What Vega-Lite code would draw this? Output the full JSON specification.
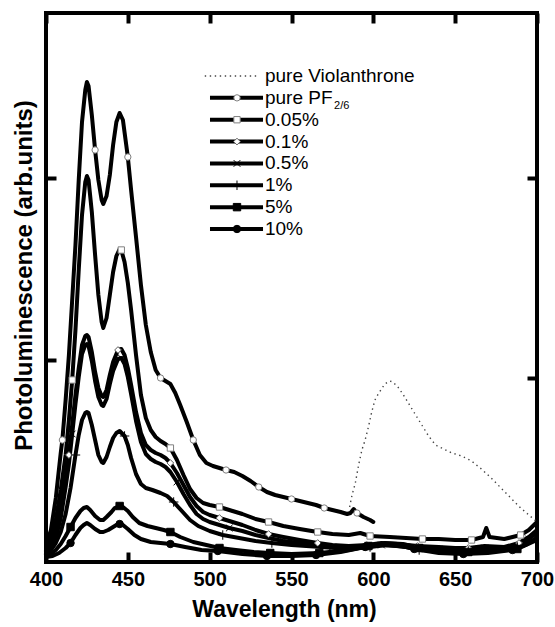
{
  "$schema": "https://vega.github.io/schema/vega-lite/v6.json",
  "width": 491,
  "height": 549,
  "autosize": {"type": "none"},
  "padding": {"left": 46, "top": 13, "right": 18, "bottom": 65},
  "background": "white",
  "config": {
    "view": {"stroke": "black", "strokeWidth": 4},
    "axis": {
      "domain": false, "grid": false, "tickColor": "black", "tickWidth": 4, "tickSize": -10,
      "labelFont": "Liberation Sans", "labelFontWeight": "bold", "labelFontSize": 20, "labelColor": "black",
      "titleFont": "Liberation Sans", "titleFontWeight": "bold", "titleFontSize": 23, "titleColor": "black",
      "minExtent": 0
    }
  },
  "datasets": {
    "spectra": [
      {"series":"pure Violanthrone","nm":585.5,"pl":55},{"series":"pure Violanthrone","nm":587,"pl":67},{"series":"pure Violanthrone","nm":589,"pl":79},{"series":"pure Violanthrone","nm":591,"pl":97},{"series":"pure Violanthrone","nm":593,"pl":112},{"series":"pure Violanthrone","nm":595,"pl":122},{"series":"pure Violanthrone","nm":597,"pl":135},{"series":"pure Violanthrone","nm":599,"pl":150},{"series":"pure Violanthrone","nm":601,"pl":162},{"series":"pure Violanthrone","nm":603,"pl":168},{"series":"pure Violanthrone","nm":605,"pl":173},{"series":"pure Violanthrone","nm":607,"pl":178},{"series":"pure Violanthrone","nm":610,"pl":181},{"series":"pure Violanthrone","nm":612,"pl":180},{"series":"pure Violanthrone","nm":615,"pl":175},{"series":"pure Violanthrone","nm":618,"pl":168},{"series":"pure Violanthrone","nm":621,"pl":160},{"series":"pure Violanthrone","nm":624,"pl":152},{"series":"pure Violanthrone","nm":627,"pl":144},{"series":"pure Violanthrone","nm":630,"pl":136},{"series":"pure Violanthrone","nm":633,"pl":128},{"series":"pure Violanthrone","nm":636,"pl":121},{"series":"pure Violanthrone","nm":639,"pl":116},{"series":"pure Violanthrone","nm":643,"pl":113},{"series":"pure Violanthrone","nm":648,"pl":109},{"series":"pure Violanthrone","nm":654,"pl":106},{"series":"pure Violanthrone","nm":660,"pl":101},{"series":"pure Violanthrone","nm":666,"pl":93},{"series":"pure Violanthrone","nm":672,"pl":84},{"series":"pure Violanthrone","nm":678,"pl":74},{"series":"pure Violanthrone","nm":684,"pl":64},{"series":"pure Violanthrone","nm":690,"pl":54},{"series":"pure Violanthrone","nm":695,"pl":47},{"series":"pure Violanthrone","nm":700,"pl":40},

      {"series":"pure PF2/6","nm":400,"pl":17},{"series":"pure PF2/6","nm":403,"pl":32},{"series":"pure PF2/6","nm":406,"pl":64},{"series":"pure PF2/6","nm":409,"pl":109},{"series":"pure PF2/6","nm":410,"pl":122},{"series":"pure PF2/6","nm":412,"pl":162},{"series":"pure PF2/6","nm":414,"pl":207},{"series":"pure PF2/6","nm":416,"pl":262},{"series":"pure PF2/6","nm":418,"pl":317},{"series":"pure PF2/6","nm":420,"pl":382},{"series":"pure PF2/6","nm":422,"pl":440},{"series":"pure PF2/6","nm":424,"pl":472},{"series":"pure PF2/6","nm":425,"pl":480},{"series":"pure PF2/6","nm":426,"pl":476},{"series":"pure PF2/6","nm":428,"pl":447},{"series":"pure PF2/6","nm":430,"pl":412},{"series":"pure PF2/6","nm":432,"pl":382},{"series":"pure PF2/6","nm":434,"pl":362},{"series":"pure PF2/6","nm":435,"pl":358},{"series":"pure PF2/6","nm":437,"pl":366},{"series":"pure PF2/6","nm":439,"pl":387},{"series":"pure PF2/6","nm":441,"pl":417},{"series":"pure PF2/6","nm":443,"pl":440},{"series":"pure PF2/6","nm":445,"pl":449},{"series":"pure PF2/6","nm":447,"pl":442},{"series":"pure PF2/6","nm":450,"pl":405},{"series":"pure PF2/6","nm":452,"pl":372},{"series":"pure PF2/6","nm":455,"pl":325},{"series":"pure PF2/6","nm":458,"pl":277},{"series":"pure PF2/6","nm":461,"pl":237},{"series":"pure PF2/6","nm":464,"pl":210},{"series":"pure PF2/6","nm":467,"pl":192},{"series":"pure PF2/6","nm":470,"pl":184},{"series":"pure PF2/6","nm":473,"pl":181},{"series":"pure PF2/6","nm":476,"pl":178},{"series":"pure PF2/6","nm":479,"pl":169},{"series":"pure PF2/6","nm":482,"pl":157},{"series":"pure PF2/6","nm":486,"pl":140},{"series":"pure PF2/6","nm":490,"pl":122},{"series":"pure PF2/6","nm":494,"pl":107},{"series":"pure PF2/6","nm":498,"pl":99},{"series":"pure PF2/6","nm":502,"pl":96},{"series":"pure PF2/6","nm":506,"pl":94},{"series":"pure PF2/6","nm":510,"pl":92},{"series":"pure PF2/6","nm":515,"pl":90},{"series":"pure PF2/6","nm":520,"pl":86},{"series":"pure PF2/6","nm":525,"pl":81},{"series":"pure PF2/6","nm":530,"pl":75},{"series":"pure PF2/6","nm":535,"pl":70},{"series":"pure PF2/6","nm":540,"pl":67},{"series":"pure PF2/6","nm":545,"pl":65},{"series":"pure PF2/6","nm":550,"pl":63},{"series":"pure PF2/6","nm":555,"pl":61},{"series":"pure PF2/6","nm":560,"pl":59},{"series":"pure PF2/6","nm":565,"pl":57},{"series":"pure PF2/6","nm":570,"pl":54},{"series":"pure PF2/6","nm":575,"pl":52},{"series":"pure PF2/6","nm":580,"pl":50},{"series":"pure PF2/6","nm":584,"pl":48},{"series":"pure PF2/6","nm":586,"pl":49},{"series":"pure PF2/6","nm":588,"pl":53},{"series":"pure PF2/6","nm":590,"pl":49},{"series":"pure PF2/6","nm":594,"pl":45},{"series":"pure PF2/6","nm":598,"pl":42},{"series":"pure PF2/6","nm":600,"pl":40},

      {"series":"0.05%","nm":400,"pl":12},{"series":"0.05%","nm":403,"pl":22},{"series":"0.05%","nm":406,"pl":42},{"series":"0.05%","nm":409,"pl":72},{"series":"0.05%","nm":412,"pl":107},{"series":"0.05%","nm":414,"pl":142},{"series":"0.05%","nm":416,"pl":182},{"series":"0.05%","nm":418,"pl":232},{"series":"0.05%","nm":420,"pl":292},{"series":"0.05%","nm":422,"pl":347},{"series":"0.05%","nm":424,"pl":380},{"series":"0.05%","nm":425,"pl":386},{"series":"0.05%","nm":426,"pl":382},{"series":"0.05%","nm":428,"pl":350},{"series":"0.05%","nm":430,"pl":307},{"series":"0.05%","nm":432,"pl":267},{"series":"0.05%","nm":434,"pl":240},{"series":"0.05%","nm":435,"pl":234},{"series":"0.05%","nm":437,"pl":244},{"series":"0.05%","nm":439,"pl":267},{"series":"0.05%","nm":441,"pl":290},{"series":"0.05%","nm":443,"pl":306},{"series":"0.05%","nm":445,"pl":313},{"series":"0.05%","nm":446,"pl":312},{"series":"0.05%","nm":448,"pl":300},{"series":"0.05%","nm":450,"pl":279},{"series":"0.05%","nm":452,"pl":252},{"series":"0.05%","nm":455,"pl":207},{"series":"0.05%","nm":458,"pl":167},{"series":"0.05%","nm":461,"pl":144},{"series":"0.05%","nm":464,"pl":132},{"series":"0.05%","nm":467,"pl":125},{"series":"0.05%","nm":470,"pl":121},{"series":"0.05%","nm":473,"pl":118},{"series":"0.05%","nm":476,"pl":114},{"series":"0.05%","nm":480,"pl":102},{"series":"0.05%","nm":484,"pl":87},{"series":"0.05%","nm":488,"pl":73},{"series":"0.05%","nm":492,"pl":64},{"series":"0.05%","nm":496,"pl":59},{"series":"0.05%","nm":500,"pl":57},{"series":"0.05%","nm":506,"pl":55},{"series":"0.05%","nm":512,"pl":52},{"series":"0.05%","nm":520,"pl":48},{"series":"0.05%","nm":528,"pl":43},{"series":"0.05%","nm":536,"pl":40},{"series":"0.05%","nm":545,"pl":36},{"series":"0.05%","nm":555,"pl":33},{"series":"0.05%","nm":566,"pl":30},{"series":"0.05%","nm":575,"pl":28},{"series":"0.05%","nm":585,"pl":27},{"series":"0.05%","nm":592,"pl":29},{"series":"0.05%","nm":598,"pl":26},{"series":"0.05%","nm":610,"pl":25},{"series":"0.05%","nm":620,"pl":24},{"series":"0.05%","nm":630,"pl":23},{"series":"0.05%","nm":640,"pl":23},{"series":"0.05%","nm":650,"pl":22},{"series":"0.05%","nm":660,"pl":22},{"series":"0.05%","nm":667,"pl":25},{"series":"0.05%","nm":669,"pl":34},{"series":"0.05%","nm":671,"pl":25},{"series":"0.05%","nm":680,"pl":23},{"series":"0.05%","nm":690,"pl":27},{"series":"0.05%","nm":695,"pl":32},{"series":"0.05%","nm":700,"pl":40},

      {"series":"0.1%","nm":400,"pl":10},{"series":"0.1%","nm":403,"pl":17},{"series":"0.1%","nm":406,"pl":30},{"series":"0.1%","nm":409,"pl":52},{"series":"0.1%","nm":412,"pl":84},{"series":"0.1%","nm":414,"pl":107},{"series":"0.1%","nm":416,"pl":137},{"series":"0.1%","nm":418,"pl":167},{"series":"0.1%","nm":420,"pl":194},{"series":"0.1%","nm":422,"pl":217},{"series":"0.1%","nm":424,"pl":226},{"series":"0.1%","nm":425,"pl":227},{"series":"0.1%","nm":426,"pl":225},{"series":"0.1%","nm":428,"pl":210},{"series":"0.1%","nm":430,"pl":190},{"series":"0.1%","nm":432,"pl":174},{"series":"0.1%","nm":434,"pl":166},{"series":"0.1%","nm":435,"pl":165},{"series":"0.1%","nm":437,"pl":172},{"series":"0.1%","nm":439,"pl":187},{"series":"0.1%","nm":441,"pl":200},{"series":"0.1%","nm":444,"pl":212},{"series":"0.1%","nm":446,"pl":213},{"series":"0.1%","nm":448,"pl":207},{"series":"0.1%","nm":450,"pl":194},{"series":"0.1%","nm":452,"pl":177},{"series":"0.1%","nm":455,"pl":150},{"series":"0.1%","nm":458,"pl":129},{"series":"0.1%","nm":461,"pl":117},{"series":"0.1%","nm":464,"pl":112},{"series":"0.1%","nm":467,"pl":109},{"series":"0.1%","nm":470,"pl":107},{"series":"0.1%","nm":473,"pl":104},{"series":"0.1%","nm":476,"pl":99},{"series":"0.1%","nm":480,"pl":89},{"series":"0.1%","nm":484,"pl":77},{"series":"0.1%","nm":488,"pl":65},{"series":"0.1%","nm":492,"pl":56},{"series":"0.1%","nm":496,"pl":50},{"series":"0.1%","nm":500,"pl":47},{"series":"0.1%","nm":506,"pl":44},{"series":"0.1%","nm":512,"pl":41},{"series":"0.1%","nm":520,"pl":37},{"series":"0.1%","nm":528,"pl":32},{"series":"0.1%","nm":536,"pl":28},{"series":"0.1%","nm":545,"pl":25},{"series":"0.1%","nm":555,"pl":22},{"series":"0.1%","nm":566,"pl":19},{"series":"0.1%","nm":575,"pl":17},{"series":"0.1%","nm":585,"pl":16},{"series":"0.1%","nm":596,"pl":17},{"series":"0.1%","nm":605,"pl":19},{"series":"0.1%","nm":615,"pl":18},{"series":"0.1%","nm":627,"pl":16},{"series":"0.1%","nm":640,"pl":15},{"series":"0.1%","nm":650,"pl":14},{"series":"0.1%","nm":658,"pl":14},{"series":"0.1%","nm":668,"pl":16},{"series":"0.1%","nm":680,"pl":15},{"series":"0.1%","nm":689,"pl":19},{"series":"0.1%","nm":695,"pl":25},{"series":"0.1%","nm":700,"pl":32},

      {"series":"0.5%","nm":400,"pl":8},{"series":"0.5%","nm":403,"pl":13},{"series":"0.5%","nm":406,"pl":24},{"series":"0.5%","nm":409,"pl":44},{"series":"0.5%","nm":412,"pl":75},{"series":"0.5%","nm":414,"pl":98},{"series":"0.5%","nm":416,"pl":128},{"series":"0.5%","nm":418,"pl":158},{"series":"0.5%","nm":420,"pl":185},{"series":"0.5%","nm":422,"pl":208},{"series":"0.5%","nm":424,"pl":217},{"series":"0.5%","nm":425,"pl":218},{"series":"0.5%","nm":426,"pl":216},{"series":"0.5%","nm":428,"pl":201},{"series":"0.5%","nm":430,"pl":181},{"series":"0.5%","nm":432,"pl":165},{"series":"0.5%","nm":434,"pl":157},{"series":"0.5%","nm":435,"pl":156},{"series":"0.5%","nm":437,"pl":163},{"series":"0.5%","nm":439,"pl":178},{"series":"0.5%","nm":441,"pl":191},{"series":"0.5%","nm":444,"pl":203},{"series":"0.5%","nm":446,"pl":204},{"series":"0.5%","nm":448,"pl":198},{"series":"0.5%","nm":450,"pl":185},{"series":"0.5%","nm":452,"pl":168},{"series":"0.5%","nm":455,"pl":141},{"series":"0.5%","nm":458,"pl":120},{"series":"0.5%","nm":461,"pl":108},{"series":"0.5%","nm":464,"pl":103},{"series":"0.5%","nm":467,"pl":100},{"series":"0.5%","nm":470,"pl":98},{"series":"0.5%","nm":473,"pl":95},{"series":"0.5%","nm":476,"pl":90},{"series":"0.5%","nm":480,"pl":80},{"series":"0.5%","nm":484,"pl":68},{"series":"0.5%","nm":488,"pl":57},{"series":"0.5%","nm":492,"pl":48},{"series":"0.5%","nm":496,"pl":43},{"series":"0.5%","nm":500,"pl":40},{"series":"0.5%","nm":506,"pl":37},{"series":"0.5%","nm":512,"pl":34},{"series":"0.5%","nm":520,"pl":31},{"series":"0.5%","nm":528,"pl":27},{"series":"0.5%","nm":536,"pl":24},{"series":"0.5%","nm":545,"pl":21},{"series":"0.5%","nm":555,"pl":19},{"series":"0.5%","nm":566,"pl":16},{"series":"0.5%","nm":575,"pl":15},{"series":"0.5%","nm":585,"pl":14},{"series":"0.5%","nm":596,"pl":15},{"series":"0.5%","nm":605,"pl":17},{"series":"0.5%","nm":615,"pl":16},{"series":"0.5%","nm":627,"pl":14},{"series":"0.5%","nm":640,"pl":13},{"series":"0.5%","nm":650,"pl":12},{"series":"0.5%","nm":658,"pl":12},{"series":"0.5%","nm":668,"pl":14},{"series":"0.5%","nm":680,"pl":13},{"series":"0.5%","nm":689,"pl":17},{"series":"0.5%","nm":695,"pl":23},{"series":"0.5%","nm":700,"pl":29},

      {"series":"1%","nm":400,"pl":8},{"series":"1%","nm":403,"pl":12},{"series":"1%","nm":406,"pl":19},{"series":"1%","nm":409,"pl":30},{"series":"1%","nm":412,"pl":48},{"series":"1%","nm":415,"pl":74},{"series":"1%","nm":418,"pl":107},{"series":"1%","nm":420,"pl":127},{"series":"1%","nm":422,"pl":142},{"series":"1%","nm":424,"pl":149},{"series":"1%","nm":425,"pl":150},{"series":"1%","nm":426,"pl":149},{"series":"1%","nm":428,"pl":137},{"series":"1%","nm":430,"pl":122},{"series":"1%","nm":432,"pl":107},{"series":"1%","nm":434,"pl":100},{"series":"1%","nm":435,"pl":99},{"series":"1%","nm":437,"pl":105},{"series":"1%","nm":439,"pl":115},{"series":"1%","nm":441,"pl":124},{"series":"1%","nm":443,"pl":129},{"series":"1%","nm":445,"pl":131},{"series":"1%","nm":448,"pl":126},{"series":"1%","nm":450,"pl":117},{"series":"1%","nm":452,"pl":104},{"series":"1%","nm":455,"pl":88},{"series":"1%","nm":458,"pl":78},{"series":"1%","nm":461,"pl":74},{"series":"1%","nm":465,"pl":72},{"series":"1%","nm":470,"pl":69},{"series":"1%","nm":474,"pl":66},{"series":"1%","nm":478,"pl":60},{"series":"1%","nm":483,"pl":51},{"series":"1%","nm":488,"pl":42},{"series":"1%","nm":493,"pl":36},{"series":"1%","nm":500,"pl":31},{"series":"1%","nm":508,"pl":27},{"series":"1%","nm":518,"pl":24},{"series":"1%","nm":528,"pl":21},{"series":"1%","nm":538,"pl":19},{"series":"1%","nm":550,"pl":17},{"series":"1%","nm":568,"pl":15},{"series":"1%","nm":585,"pl":13},{"series":"1%","nm":598,"pl":15},{"series":"1%","nm":608,"pl":17},{"series":"1%","nm":620,"pl":15},{"series":"1%","nm":628,"pl":12},{"series":"1%","nm":645,"pl":11},{"series":"1%","nm":658,"pl":11},{"series":"1%","nm":672,"pl":12},{"series":"1%","nm":688,"pl":15},{"series":"1%","nm":695,"pl":19},{"series":"1%","nm":700,"pl":24},

      {"series":"5%","nm":400,"pl":6},{"series":"5%","nm":403,"pl":8},{"series":"5%","nm":406,"pl":12},{"series":"5%","nm":409,"pl":18},{"series":"5%","nm":412,"pl":26},{"series":"5%","nm":415,"pl":35},{"series":"5%","nm":418,"pl":44},{"series":"5%","nm":421,"pl":51},{"series":"5%","nm":423,"pl":54},{"series":"5%","nm":425,"pl":55},{"series":"5%","nm":427,"pl":52},{"series":"5%","nm":430,"pl":46},{"series":"5%","nm":433,"pl":42},{"series":"5%","nm":435,"pl":42},{"series":"5%","nm":437,"pl":45},{"series":"5%","nm":440,"pl":50},{"series":"5%","nm":442,"pl":54},{"series":"5%","nm":445,"pl":56},{"series":"5%","nm":447,"pl":55},{"series":"5%","nm":450,"pl":51},{"series":"5%","nm":453,"pl":45},{"series":"5%","nm":457,"pl":39},{"series":"5%","nm":462,"pl":36},{"series":"5%","nm":467,"pl":34},{"series":"5%","nm":472,"pl":32},{"series":"5%","nm":476,"pl":30},{"series":"5%","nm":482,"pl":25},{"series":"5%","nm":490,"pl":20},{"series":"5%","nm":498,"pl":17},{"series":"5%","nm":506,"pl":14},{"series":"5%","nm":516,"pl":12},{"series":"5%","nm":527,"pl":10},{"series":"5%","nm":537,"pl":9},{"series":"5%","nm":550,"pl":8},{"series":"5%","nm":567,"pl":9},{"series":"5%","nm":585,"pl":12},{"series":"5%","nm":597,"pl":16},{"series":"5%","nm":607,"pl":19},{"series":"5%","nm":618,"pl":18},{"series":"5%","nm":628,"pl":14},{"series":"5%","nm":640,"pl":11},{"series":"5%","nm":658,"pl":10},{"series":"5%","nm":675,"pl":11},{"series":"5%","nm":688,"pl":13},{"series":"5%","nm":700,"pl":22},

      {"series":"10%","nm":400,"pl":5},{"series":"10%","nm":404,"pl":6},{"series":"10%","nm":408,"pl":9},{"series":"10%","nm":412,"pl":14},{"series":"10%","nm":415,"pl":19},{"series":"10%","nm":418,"pl":27},{"series":"10%","nm":421,"pl":34},{"series":"10%","nm":423,"pl":37},{"series":"10%","nm":425,"pl":39},{"series":"10%","nm":427,"pl":37},{"series":"10%","nm":430,"pl":33},{"series":"10%","nm":433,"pl":30},{"series":"10%","nm":435,"pl":30},{"series":"10%","nm":438,"pl":32},{"series":"10%","nm":441,"pl":35},{"series":"10%","nm":443,"pl":37},{"series":"10%","nm":445,"pl":38},{"series":"10%","nm":447,"pl":37},{"series":"10%","nm":450,"pl":33},{"series":"10%","nm":454,"pl":27},{"series":"10%","nm":458,"pl":23},{"series":"10%","nm":464,"pl":20},{"series":"10%","nm":470,"pl":19},{"series":"10%","nm":476,"pl":18},{"series":"10%","nm":485,"pl":15},{"series":"10%","nm":495,"pl":12},{"series":"10%","nm":505,"pl":11},{"series":"10%","nm":520,"pl":8},{"series":"10%","nm":535,"pl":6},{"series":"10%","nm":550,"pl":6},{"series":"10%","nm":565,"pl":7},{"series":"10%","nm":580,"pl":10},{"series":"10%","nm":595,"pl":15},{"series":"10%","nm":605,"pl":18},{"series":"10%","nm":615,"pl":17},{"series":"10%","nm":625,"pl":13},{"series":"10%","nm":640,"pl":9},{"series":"10%","nm":655,"pl":8},{"series":"10%","nm":670,"pl":9},{"series":"10%","nm":685,"pl":12},{"series":"10%","nm":693,"pl":17},{"series":"10%","nm":700,"pl":24}
    ],
    "markers": [
      {"series":"pure PF2/6","nm":410,"pl":122},{"series":"pure PF2/6","nm":430,"pl":412},{"series":"pure PF2/6","nm":450,"pl":405},{"series":"pure PF2/6","nm":470,"pl":184},{"series":"pure PF2/6","nm":490,"pl":122},{"series":"pure PF2/6","nm":510,"pl":92},{"series":"pure PF2/6","nm":530,"pl":75},{"series":"pure PF2/6","nm":550,"pl":63},{"series":"pure PF2/6","nm":570,"pl":54},{"series":"pure PF2/6","nm":590,"pl":49},
      {"series":"0.05%","nm":416,"pl":182},{"series":"0.05%","nm":446,"pl":312},{"series":"0.05%","nm":476,"pl":114},{"series":"0.05%","nm":506,"pl":55},{"series":"0.05%","nm":536,"pl":40},{"series":"0.05%","nm":566,"pl":30},{"series":"0.05%","nm":598,"pl":26},{"series":"0.05%","nm":630,"pl":23},{"series":"0.05%","nm":660,"pl":22},{"series":"0.05%","nm":690,"pl":27},
      {"series":"0.1%","nm":414,"pl":107},{"series":"0.1%","nm":444,"pl":212},{"series":"0.1%","nm":476,"pl":99},{"series":"0.1%","nm":506,"pl":44},{"series":"0.1%","nm":536,"pl":28},{"series":"0.1%","nm":566,"pl":19},{"series":"0.1%","nm":596,"pl":17},{"series":"0.1%","nm":627,"pl":16},{"series":"0.1%","nm":658,"pl":14},{"series":"0.1%","nm":689,"pl":19},
      {"series":"0.5%","nm":416,"pl":128},{"series":"0.5%","nm":446,"pl":204},{"series":"0.5%","nm":480,"pl":80},{"series":"0.5%","nm":512,"pl":34},{"series":"0.5%","nm":545,"pl":21},{"series":"0.5%","nm":575,"pl":15},{"series":"0.5%","nm":605,"pl":17},{"series":"0.5%","nm":640,"pl":13},{"series":"0.5%","nm":668,"pl":14},{"series":"0.5%","nm":695,"pl":23},
      {"series":"1%","nm":418,"pl":107},{"series":"1%","nm":448,"pl":126},{"series":"1%","nm":478,"pl":60},{"series":"1%","nm":508,"pl":27},{"series":"1%","nm":538,"pl":19},{"series":"1%","nm":568,"pl":15},{"series":"1%","nm":598,"pl":15},{"series":"1%","nm":628,"pl":12},{"series":"1%","nm":658,"pl":11},{"series":"1%","nm":688,"pl":15},
      {"series":"5%","nm":415,"pl":35},{"series":"5%","nm":445,"pl":56},{"series":"5%","nm":476,"pl":30},{"series":"5%","nm":506,"pl":14},{"series":"5%","nm":537,"pl":9},{"series":"5%","nm":567,"pl":9},{"series":"5%","nm":597,"pl":16},{"series":"5%","nm":628,"pl":14},{"series":"5%","nm":658,"pl":10},{"series":"5%","nm":688,"pl":13},
      {"series":"10%","nm":415,"pl":19},{"series":"10%","nm":445,"pl":38},{"series":"10%","nm":476,"pl":18},{"series":"10%","nm":505,"pl":11},{"series":"10%","nm":535,"pl":6},{"series":"10%","nm":565,"pl":7},{"series":"10%","nm":595,"pl":15},{"series":"10%","nm":625,"pl":13},{"series":"10%","nm":655,"pl":8},{"series":"10%","nm":685,"pl":12}
    ],
    "legend": [
      {"series":"pure Violanthrone","label":"pure Violanthrone"},
      {"series":"pure PF2/6","label":"pure PF"},
      {"series":"0.05%","label":"0.05%"},
      {"series":"0.1%","label":"0.1%"},
      {"series":"0.5%","label":"0.5%"},
      {"series":"1%","label":"1%"},
      {"series":"5%","label":"5%"},
      {"series":"10%","label":"10%"}
    ]
  },
  "layer": [
    {
      "data": {"name": "spectra"},
      "transform": [{"filter": "datum.series === 'pure Violanthrone'"}],
      "mark": {"type": "line", "stroke": "#444444", "strokeWidth": 1.4, "strokeDash": [1.4, 3.6]},
      "encoding": {
        "x": {"field": "nm", "type": "quantitative", "scale": {"domain": [400, 700], "nice": false, "zero": false},
              "axis": {"orient": "top", "values": [400, 450, 500, 550, 600, 650, 700], "labels": false, "title": null}},
        "y": {"field": "pl", "type": "quantitative", "scale": {"domain": [0, 549], "nice": false, "zero": false},
              "axis": {"orient": "right", "values": [184, 384], "labels": false, "title": null}}
      }
    },
    {
      "data": {"name": "spectra"},
      "transform": [{"filter": "datum.series !== 'pure Violanthrone'"}],
      "mark": {"type": "line", "stroke": "black", "strokeWidth": 4, "strokeJoin": "round", "strokeCap": "round"},
      "encoding": {
        "x": {"field": "nm", "type": "quantitative", "scale": {"domain": [400, 700], "nice": false, "zero": false},
              "axis": {"orient": "bottom", "values": [400, 450, 500, 550, 600, 650, 700], "labelFlush": false, "labelPadding": 17,
                       "title": "Wavelength (nm)", "titlePadding": 9, "titleX": 238}},
        "y": {"field": "pl", "type": "quantitative", "scale": {"domain": [0, 549], "nice": false, "zero": false},
              "axis": {"orient": "left", "values": [20, 202, 384], "labels": false, "title": "Photoluminescence (arb.units)",
                       "titleFontSize": 24, "titlePadding": 10, "titleY": 262, "maxExtent": 0}},
        "detail": {"field": "series", "type": "nominal"}
      }
    },
    {
      "data": {"name": "markers"},
      "mark": {"type": "point", "strokeWidth": 1, "opacity": 1},
      "encoding": {
        "x": {"field": "nm", "type": "quantitative", "axis": null},
        "y": {"field": "pl", "type": "quantitative", "scale": {"domain": [0, 549], "nice": false, "zero": false}, "axis": null},
        "shape": {"field": "series", "type": "nominal", "legend": null,
                  "scale": {"domain": ["pure PF2/6", "0.05%", "0.1%", "0.5%", "1%", "5%", "10%"],
                            "range": ["circle", "square", "diamond", "M-1,-1L1,1M-1,1L1,-1", "M0,-1L0,1M-1,0L1,0", "square", "circle"]}},
        "fill": {"field": "series", "type": "nominal", "legend": null,
                 "scale": {"domain": ["pure PF2/6", "0.05%", "0.1%", "0.5%", "1%", "5%", "10%"],
                           "range": ["white", "white", "white", "transparent", "transparent", "black", "black"]}},
        "stroke": {"field": "series", "type": "nominal", "legend": null,
                   "scale": {"domain": ["pure PF2/6", "0.05%", "0.1%", "0.5%", "1%", "5%", "10%"],
                             "range": ["#808080", "#808080", "#606060", "black", "black", "black", "black"]}},
        "size": {"field": "series", "type": "nominal", "legend": null,
                 "scale": {"type": "ordinal", "domain": ["pure PF2/6", "0.05%", "0.1%", "0.5%", "1%", "5%", "10%"],
                           "range": [40, 40, 45, 45, 90, 55, 55]}}
      }
    },
    {
      "data": {"name": "legend"},
      "transform": [{"filter": "datum.series !== 'pure Violanthrone'"}],
      "mark": {"type": "rule", "stroke": "black", "strokeWidth": 4},
      "encoding": {
        "x": {"datum": 500.2, "axis": null},
        "x2": {"datum": 532.6},
        "y": {"field": "series", "type": "nominal", "axis": null,
              "scale": {"type": "point", "padding": 0, "range": [63, 216],
                        "domain": ["pure Violanthrone", "pure PF2/6", "0.05%", "0.1%", "0.5%", "1%", "5%", "10%"]}}
      }
    },
    {
      "data": {"name": "legend"},
      "transform": [{"filter": "datum.series === 'pure Violanthrone'"}],
      "mark": {"type": "rule", "stroke": "#444444", "strokeWidth": 1.4, "strokeDash": [1.4, 3.6]},
      "encoding": {
        "x": {"datum": 497, "axis": null},
        "x2": {"datum": 529.5},
        "y": {"field": "series", "type": "nominal", "axis": null,
              "scale": {"type": "point", "padding": 0, "range": [63, 216],
                        "domain": ["pure Violanthrone", "pure PF2/6", "0.05%", "0.1%", "0.5%", "1%", "5%", "10%"]}}
      }
    },
    {
      "data": {"name": "legend"},
      "transform": [{"filter": "datum.series !== 'pure Violanthrone'"}],
      "mark": {"type": "point", "strokeWidth": 1, "opacity": 1},
      "encoding": {
        "x": {"datum": 516.7, "axis": null},
        "y": {"field": "series", "type": "nominal", "axis": null,
              "scale": {"type": "point", "padding": 0, "range": [63, 216],
                        "domain": ["pure Violanthrone", "pure PF2/6", "0.05%", "0.1%", "0.5%", "1%", "5%", "10%"]}},
        "shape": {"field": "series", "type": "nominal", "legend": null,
                  "scale": {"domain": ["pure PF2/6", "0.05%", "0.1%", "0.5%", "1%", "5%", "10%"],
                            "range": ["circle", "square", "diamond", "M-1,-1L1,1M-1,1L1,-1", "M0,-1L0,1M-1,0L1,0", "square", "circle"]}},
        "fill": {"field": "series", "type": "nominal", "legend": null,
                 "scale": {"domain": ["pure PF2/6", "0.05%", "0.1%", "0.5%", "1%", "5%", "10%"],
                           "range": ["white", "white", "white", "transparent", "transparent", "black", "black"]}},
        "stroke": {"field": "series", "type": "nominal", "legend": null,
                   "scale": {"domain": ["pure PF2/6", "0.05%", "0.1%", "0.5%", "1%", "5%", "10%"],
                             "range": ["#808080", "#808080", "#606060", "black", "black", "black", "black"]}},
        "size": {"field": "series", "type": "nominal", "legend": null,
                 "scale": {"type": "ordinal", "domain": ["pure PF2/6", "0.05%", "0.1%", "0.5%", "1%", "5%", "10%"],
                           "range": [45, 45, 50, 45, 110, 70, 80]}}
      }
    },
    {
      "data": {"name": "legend"},
      "mark": {"type": "text", "align": "left", "baseline": "middle", "font": "Liberation Sans", "fontSize": 19, "color": "black"},
      "encoding": {
        "x": {"datum": 533.8, "axis": null},
        "y": {"field": "series", "type": "nominal", "axis": null,
              "scale": {"type": "point", "padding": 0, "range": [63, 216],
                        "domain": ["pure Violanthrone", "pure PF2/6", "0.05%", "0.1%", "0.5%", "1%", "5%", "10%"]}},
        "text": {"field": "label"}
      }
    },
    {
      "data": {"name": "legend"},
      "transform": [{"filter": "datum.series === 'pure PF2/6'"}],
      "mark": {"type": "text", "align": "left", "baseline": "middle", "font": "Liberation Sans", "fontSize": 11, "dy": 8, "color": "black"},
      "encoding": {
        "x": {"datum": 576, "axis": null},
        "y": {"field": "series", "type": "nominal", "axis": null,
              "scale": {"type": "point", "padding": 0, "range": [63, 216],
                        "domain": ["pure Violanthrone", "pure PF2/6", "0.05%", "0.1%", "0.5%", "1%", "5%", "10%"]}},
        "text": {"value": "2/6"}
      }
    }
  ],
  "resolve": {"scale": {"y": "independent"}, "axis": {"x": "independent", "y": "independent"}}
}
